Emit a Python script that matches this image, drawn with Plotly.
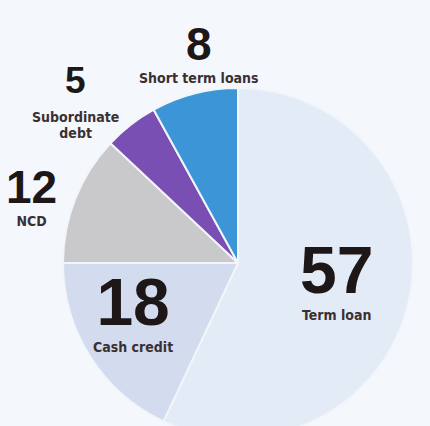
import plotly.graph_objects as go

# borrowing mix, per cent
categories = ["Term loan", "Cash credit", "NCD", "Subordinate debt", "Short term loans"]
shares = [57, 18, 12, 5, 8]
label_lines = ["Term loan", "Cash credit", "NCD", "Subordinate<br>debt", "Short term loans"]

colors = ["#e3ebf6", "#d3dbee", "#c9c9cc", "#7a4fb4", "#3c95d7"]

# the page window is 430x426; the figure runs a little past the bottom edge
# so the bottom of the pie is cut off, as in the printed original
W, H = 430, 440
BG = "#f4f7fb"

# label placement in pixels: (centre x, bottom y of the block, number size, line gap size)
placements = [
    (336, 325, 66, 21),
    (133, 357, 66, 21),
    (31, 231, 46, 18),
    (75, 0, 37, 0),  # two-line label, placed separately below
    (199, 88, 46, 18),
]

cx, cy, r = 238, 263, 175

NUM_FONT = "Liberation Sans, Arial, sans-serif"
LABEL_FONT = "DejaVu Sans Condensed, DejaVu Sans, sans-serif"

fig = go.Figure(
    go.Pie(
        labels=categories,
        values=shares,
        sort=False,
        direction="clockwise",
        rotation=0,
        textinfo="none",
        hoverinfo="label+value",
        marker=dict(colors=colors, line=dict(color="#f2f5fa", width=2)),
        domain=dict(x=[(cx - r) / W, (cx + r) / W], y=[1 - (cy + r) / H, 1 - (cy - r) / H]),
        showlegend=False,
    )
)


def num_span(val, size):
    return (
        f"<span style='font-family:{NUM_FONT};"
        f"font-size:{size}px;color:#1d1718'><b>{val}</b></span>"
    )


annotations = []
for val, lab, (px, py, size, gap) in zip(shares, label_lines, placements):
    if "<br>" in lab:
        # number and the two-line label as separate pieces (tighter lines)
        annotations.append(
            dict(x=px / W, y=1 - 103 / H, xref="paper", yref="paper",
                 text=num_span(val, size), showarrow=False,
                 xanchor="center", yanchor="bottom",
                 font=dict(family=NUM_FONT, size=size, color="#1d1718"))
        )
        annotations.append(
            dict(x=px / W, y=1 - 125 / H, xref="paper", yref="paper",
                 text=f"<span style='font-size:14px'><b>{lab}</b></span>",
                 showarrow=False, xanchor="center", yanchor="middle", align="center",
                 font=dict(family=LABEL_FONT, size=12, color="#3a3034"))
        )
        continue
    annotations.append(
        dict(
            x=px / W, y=1 - py / H, xref="paper", yref="paper",
            text=f"{num_span(val, size)}<br><span style='font-size:14px'><b>{lab}</b></span>",
            showarrow=False,
            xanchor="center", yanchor="bottom", align="center",
            font=dict(family=LABEL_FONT, size=gap, color="#3a3034"),
        )
    )

fig.update_layout(
    width=W,
    height=H,
    margin=dict(l=0, r=0, t=0, b=0),
    paper_bgcolor=BG,
    plot_bgcolor=BG,
    annotations=annotations,
)

fig.write_html(
    "out.html",
    config={"displayModeBar": False},
    post_script="document.body.style.margin='0';document.body.style.overflow='hidden';",
)
